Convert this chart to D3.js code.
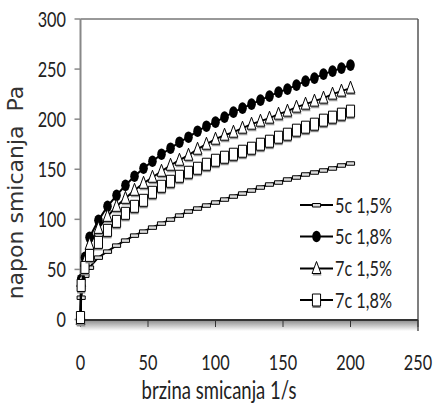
<!DOCTYPE html>
<html>
<head>
<meta charset="utf-8">
<script src="https://cdn.jsdelivr.net/npm/d3@7"></script>
<style>
body { margin: 0; background: #fff; }
text { font-family: Lato, "Open Sans", sans-serif; fill: #222; }
</style>
</head>
<body>
<script>
// shear rate 1/s and shear stress Pa
var shearRate = [0, 0.5, 3.3, 6.7, 13.3, 20, 26.7, 33.3, 40, 46.7, 53.3, 60, 66.7, 73.3, 80, 86.7, 93.3,
                 100, 106.7, 113.3, 120, 126.7, 133.3, 140, 146.7, 153.3, 160, 166.7, 173.3, 180, 186.7, 193.3, 200];
var c5_15 = [0, 22, 44, 52, 62, 68, 74, 79, 84, 88, 92, 96, 100, 104, 108, 111, 114,
             117, 120, 123, 126, 129, 132, 135, 137, 140, 142, 145, 147, 149, 151, 154, 156];
var c5_18 = [0, 40, 62, 82, 99, 113, 124, 134, 143, 151, 158, 165, 171, 177, 182, 188, 193,
             197, 202, 207, 211, 215, 219, 223, 227, 230, 234, 238, 241, 245, 248, 251, 254];
var c7_15 = [0, 38, 58, 75, 91, 103, 113, 121, 129, 136, 142, 148, 154, 159, 164, 170, 175,
             180, 184, 187, 191, 195, 198, 201, 205, 208, 212, 215, 218, 221, 225, 228, 231];
var c7_18 = [2, 34, 52, 64, 77, 89, 98, 106, 113, 119, 127, 133, 138, 143, 147, 151, 155,
             159, 162, 165, 168, 171, 175, 178, 182, 185, 189, 192, 195, 199, 202, 205, 208];

var seriesNames = ["5c 1,5%", "5c 1,8%", "7c 1,5%", "7c 1,8%"];
var xTicks = [0, 50, 100, 150, 200, 250];
var yTicks = [0, 50, 100, 150, 200, 250, 300];

var width = 434, height = 407;
var sx = 0.74; // the whole picture is squeezed sideways

var svg = d3.select("body").append("svg").attr("width", width).attr("height", height);

var grad = svg.append("defs").append("linearGradient").attr("id", "band")
  .attr("x1", 0).attr("y1", 0).attr("x2", 0).attr("y2", 1);
grad.append("stop").attr("offset", "0%").attr("stop-color", "#8a8a8a");
grad.append("stop").attr("offset", "100%").attr("stop-color", "#ffffff");

var g = svg.append("g").attr("transform", "scale(" + sx + ",1)");

var x = d3.scaleLinear().domain([0, 250]).range([80.5 / sx, 418 / sx]);
var y = d3.scaleLinear().domain([0, 300]).range([319.5, 19]);

// frame
g.append("rect").attr("x", x(0)).attr("y", 320).attr("width", x(250) - x(0)).attr("height", 11)
  .attr("fill", "url(#band)");
g.append("line").attr("x1", x(0)).attr("x2", x(250)).attr("y1", y(300)).attr("y2", y(300))
  .attr("stroke", "#333").attr("stroke-width", 1).attr("vector-effect", "non-scaling-stroke");
g.append("line").attr("x1", x(250)).attr("x2", x(250)).attr("y1", y(300)).attr("y2", 331)
  .attr("stroke", "#555").attr("stroke-width", 1.5).attr("vector-effect", "non-scaling-stroke");
g.append("line").attr("x1", x(0)).attr("x2", x(250)).attr("y1", 320).attr("y2", 320)
  .attr("stroke", "#333").attr("stroke-width", 2).attr("vector-effect", "non-scaling-stroke");
g.append("line").attr("x1", x(0)).attr("x2", x(0)).attr("y1", y(300)).attr("y2", 322)
  .attr("stroke", "#888").attr("stroke-width", 2).attr("vector-effect", "non-scaling-stroke");

// y axis ticks and labels
g.selectAll(".ytick").data(yTicks).enter().append("line")
  .attr("x1", x(0) - 6 / sx).attr("x2", x(0))
  .attr("y1", function(d){ return y(d); }).attr("y2", function(d){ return y(d); })
  .attr("stroke", "#888").attr("stroke-width", 1.5).attr("vector-effect", "non-scaling-stroke");
g.selectAll(".ylab").data(yTicks).enter().append("text")
  .attr("x", 66 / sx).attr("y", function(d){ return y(d); }).attr("dy", "0.36em")
  .attr("text-anchor", "end").attr("font-size", 22).text(function(d){ return d; });

// x axis ticks and labels
g.selectAll(".xtick").data(xTicks).enter().append("line")
  .attr("x1", function(d){ return x(d); }).attr("x2", function(d){ return x(d); })
  .attr("y1", 320).attr("y2", 327)
  .attr("stroke", "#333").attr("stroke-width", 1).attr("vector-effect", "non-scaling-stroke");
g.selectAll(".xlab").data(xTicks).enter().append("text")
  .attr("x", function(d){ return x(d); }).attr("y", 370)
  .attr("text-anchor", "middle").attr("font-size", 22).text(function(d){ return d; });

g.append("text").attr("x", 219 / sx).attr("y", 399).attr("text-anchor", "middle")
  .attr("font-size", 25).text("brzina smicanja 1/s");

svg.append("text").attr("transform", "translate(23,192.5) rotate(-90)")
  .attr("text-anchor", "middle").attr("font-size", 22)
  .style("font-family", "'DejaVu Sans', sans-serif").style("fill", "#333").style("white-space", "pre")
  .text("napon smicanja  Pa");

// series
var series = [c5_15, c5_18, c7_15, c7_18].map(function(vals, i) {
  return { name: seriesNames[i], kind: i, pts: shearRate.map(function(r, j){ return [r, vals[j]]; }) };
});

var line = d3.line().x(function(d){ return x(d[0]); }).y(function(d){ return y(d[1]); });

function drawMarker(sel, kind) {
  if (kind === 0) {
    sel.append("rect").attr("x", -5.5).attr("y", -1.5).attr("width", 11).attr("height", 3.5)
      .attr("fill", "#ddd").attr("stroke", "#000").attr("stroke-width", 1).attr("vector-effect", "non-scaling-stroke");
  } else if (kind === 1) {
    sel.append("circle").attr("r", 5.8).attr("fill", "#000");
  } else if (kind === 2) {
    sel.append("path").attr("d", "M0,-7L6,5L-6,5Z").attr("transform", "translate(0.8,2)")
      .attr("fill", "#999");
    sel.append("path").attr("d", "M0,-7L6,5L-6,5Z")
      .attr("fill", "#fff").attr("stroke", "#000").attr("stroke-width", 1).attr("vector-effect", "non-scaling-stroke");
  } else {
    sel.append("rect").attr("x", -5.5).attr("y", -4).attr("width", 11).attr("height", 12)
      .attr("fill", "#888");
    sel.append("rect").attr("x", -5.5).attr("y", -6).attr("width", 11).attr("height", 12)
      .attr("fill", "#fff").attr("stroke", "#000").attr("stroke-width", 1).attr("vector-effect", "non-scaling-stroke");
  }
}

series.forEach(function(s) {
  var sg = g.append("g");
  sg.append("path").datum(s.pts).attr("d", line).attr("fill", "none")
    .attr("stroke", "#000").attr("stroke-width", 2).attr("vector-effect", "non-scaling-stroke");
  sg.selectAll("g").data(s.pts).enter().append("g")
    .attr("transform", function(d){ return "translate(" + x(d[0]) + "," + y(d[1]) + ")"; })
    .each(function(){ drawMarker(d3.select(this), s.kind); });
});

// legend
var legendRows = [205, 236.5, 268.5, 300];
series.forEach(function(s, i) {
  var lg = g.append("g").attr("transform", "translate(0," + legendRows[i] + ")");
  lg.append("line").attr("x1", 300 / sx).attr("x2", 333 / sx).attr("y1", 0).attr("y2", 0)
    .attr("stroke", "#000").attr("stroke-width", 2).attr("vector-effect", "non-scaling-stroke");
  var m = lg.append("g").attr("transform", "translate(" + 316.5 / sx + ",0)");
  drawMarker(m, s.kind);
  lg.append("text").attr("x", 335 / sx).attr("y", 0).attr("dy", "0.36em")
    .attr("font-size", 22).text(s.name);
});
</script>
</body>
</html>
